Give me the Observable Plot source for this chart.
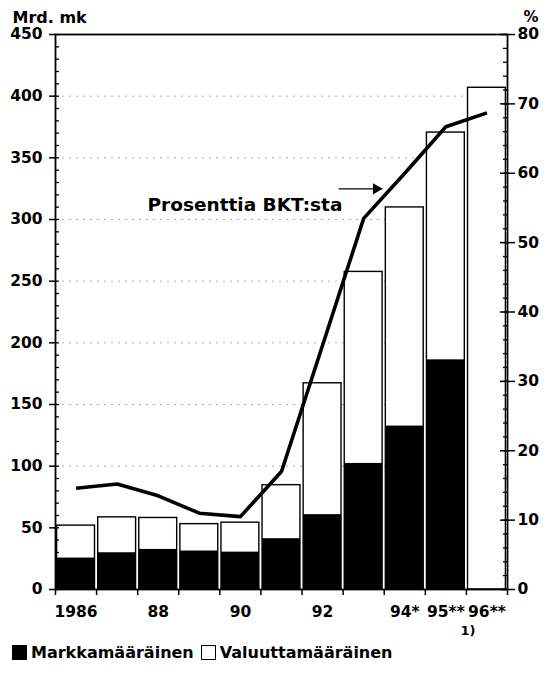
<!DOCTYPE html>
<html>
<head>
<meta charset="utf-8">
<script src="https://cdn.jsdelivr.net/npm/d3@7"></script>
<script src="https://cdn.jsdelivr.net/npm/@observablehq/plot@0.6"></script>
<style>
  body { margin: 0; background: #fff; }
  #chart { width: 554px; }
  #legend { display: flex; align-items: center; width: 554px; height: 36px; box-sizing: border-box; padding: 0 0 12px 12px; font: bold 16px "DejaVu Sans", sans-serif; color: #000; white-space: nowrap; }
  #legend .sw { display: inline-block; width: 15px; height: 15px; box-sizing: border-box; margin-right: 4px; flex: none; }
  #legend .lb { margin-right: 7px; }
</style>
</head>
<body>
<div id="chart"></div>
<div id="legend">
  <span class="sw" style="background:#000"></span><span class="lb">Markkamääräinen</span>
  <span class="sw" style="border:1.5px solid #000;background:#fff"></span><span class="lb">Valuuttamääräinen</span>
</div>
<script>
// ---- data ----
const years = [1986, 1987, 1988, 1989, 1990, 1991, 1992, 1993, 1994, 1995, 1996];
const xLabels = ["1986", "", "88", "", "90", "", "92", "", "94*", "95**", "96**"];
const totalDebt = [51.8, 58.5, 58.0, 53.0, 54.2, 84.6, 167.2, 257.5, 309.8, 370.5, 406.8];   // Mrd. mk
const markkaDebt = [25.5, 29.8, 32.5, 31.2, 30.3, 41.2, 60.7, 102.2, 132.5, 186.2, null];     // Mrd. mk
const pctOfGdp = [14.6, 15.2, 13.5, 11.0, 10.5, 17.0, 35.2, 53.5, 60.0, 66.7, 68.7];        // %
const leftTicks = [0, 50, 100, 150, 200, 250, 300, 350, 400, 450];
const rightTicks = [0, 10, 20, 30, 40, 50, 60, 70, 80];
const gridValues = [100, 150, 200, 250, 300, 350, 400];
const annotText = ["Prosenttia BKT:sta"];
const annotX = [1987.74];
const annotY = [306.5];
const arrowX1 = [1992.39];
const arrowX2 = [1993.45];
const arrowY = [324.9];
const footnote = ["1)"];

// ---- build tables ----
const yMax = 450, pMax = 80;
const pct2y = p => p * yMax / pMax;
const rows = years.map((year, i) => ({year, total: totalDebt[i], markka: markkaDebt[i], pct: pctOfGdp[i], label: xLabels[i]}));
const annot = annotText.map((t, i) => ({text: t, x: annotX[i], y: annotY[i]}));
const arrows = arrowX1.map((x1, i) => ({x1, x2: arrowX2[i], y: arrowY[i]}));
const boundaries = years.map(y => y - 0.5).concat([years[years.length - 1] + 0.5]);

const W = 554, H = 640, mL = 55, mR = 47, mT = 34, mB = 51;
const frameW = W - mL - mR;
const font = "DejaVu Sans, sans-serif";

const chart = Plot.plot({
  width: W,
  height: H,
  marginLeft: mL,
  marginRight: mR,
  marginTop: mT,
  marginBottom: mB,
  x: {type: "linear", domain: [years[0] - 0.5, years[years.length - 1] + 0.5]},
  y: {domain: [0, yMax]},
  style: {fontFamily: font, fontSize: "15.5px", fontWeight: "bold", background: "#fff", color: "#000", overflow: "visible"},
  marks: [
    // faint dotted gridlines
    Plot.ruleY(gridValues, {stroke: "#888", strokeWidth: 1, strokeDasharray: "2,5", strokeOpacity: 0.7}),
    // total bars (white, outlined)
    Plot.rectY(rows, {x1: d => d.year - 0.5, x2: d => d.year + 0.5, y1: 0, y2: "total", insetLeft: 1.6, insetRight: 1.6, fill: "#fff", stroke: "#000", strokeWidth: 1.4}),
    // markka-denominated part (black)
    Plot.rectY(rows.filter(d => d.markka != null), {x1: d => d.year - 0.5, x2: d => d.year + 0.5, y1: 0, y2: "markka", insetLeft: 1.6, insetRight: 1.6, fill: "#000"}),
    // percent of GDP line (right scale)
    Plot.line(rows, {x: "year", y: d => pct2y(d.pct), stroke: "#000", strokeWidth: 3.6, strokeLinejoin: "round", strokeLinecap: "butt"}),
    // frame (axes lines + top border)
    Plot.frame({stroke: "#000", strokeWidth: 1.8}),
    // left axis
    Plot.axisY(leftTicks, {anchor: "left", tickSize: 6, tickPadding: 7, strokeWidth: 1.5, fontSize: 15.5, fontWeight: "bold", label: null, tickFormat: d => String(d)}),
    Plot.ruleY(d3.range(0, yMax + 1, 10), {insetRight: frameW - 4, strokeWidth: 1.3}),
    // right axis (percent)
    Plot.axisY(rightTicks.map(pct2y), {anchor: "right", tickSize: 7, tickPadding: 3, strokeWidth: 1.5, fontSize: 15.5, fontWeight: "bold", label: null, tickFormat: v => String(Math.round(v * pMax / yMax))}),
    Plot.ruleY(d3.range(0, pMax + 1, 2).map(pct2y), {insetLeft: frameW - 4, strokeWidth: 1.3}),
    Plot.ruleY(rightTicks.map(pct2y), {insetLeft: frameW - 7, strokeWidth: 1.5}),
    // x axis: boundary ticks + labels
    Plot.axisX(boundaries, {tickSize: 6, strokeWidth: 1.5, tickFormat: () => "", label: null}),
    Plot.axisX(years, {tickSize: 0, tickPadding: 16, fontSize: 15.5, fontWeight: "bold", label: null, tickFormat: d => rows.find(r => r.year === d).label}),
    // footnote marker under last labels
    Plot.text(footnote, {x: years[years.length - 1], frameAnchor: "bottom", dx: -19, dy: 45, fontSize: 13, fontWeight: "bold", lineAnchor: "bottom"}),
    // axis titles
    Plot.text(["Mrd. mk"], {frameAnchor: "top-left", dx: -43, dy: -12, textAnchor: "start", lineAnchor: "bottom", fontSize: 16, fontWeight: "bold"}),
    Plot.text(["%"], {frameAnchor: "top-right", dx: 16, dy: -13, textAnchor: "start", lineAnchor: "bottom", fontSize: 15, fontWeight: "bold"}),
    // annotation and arrow
    Plot.text(annot, {x: "x", y: "y", text: "text", textAnchor: "start", lineAnchor: "bottom", fontSize: 18.5, fontWeight: "bold"}),
    Plot.link(arrows, {x1: "x1", x2: "x2", y1: "y", y2: "y", stroke: "#000", strokeWidth: 1.2}),
    Plot.dot(arrows, {x: "x2", y: "y", symbol: "triangle", r: 4.2, rotate: 90, fill: "#000", stroke: null, dx: -6})
  ]
});
document.getElementById("chart").appendChild(chart);
</script>
</body>
</html>
